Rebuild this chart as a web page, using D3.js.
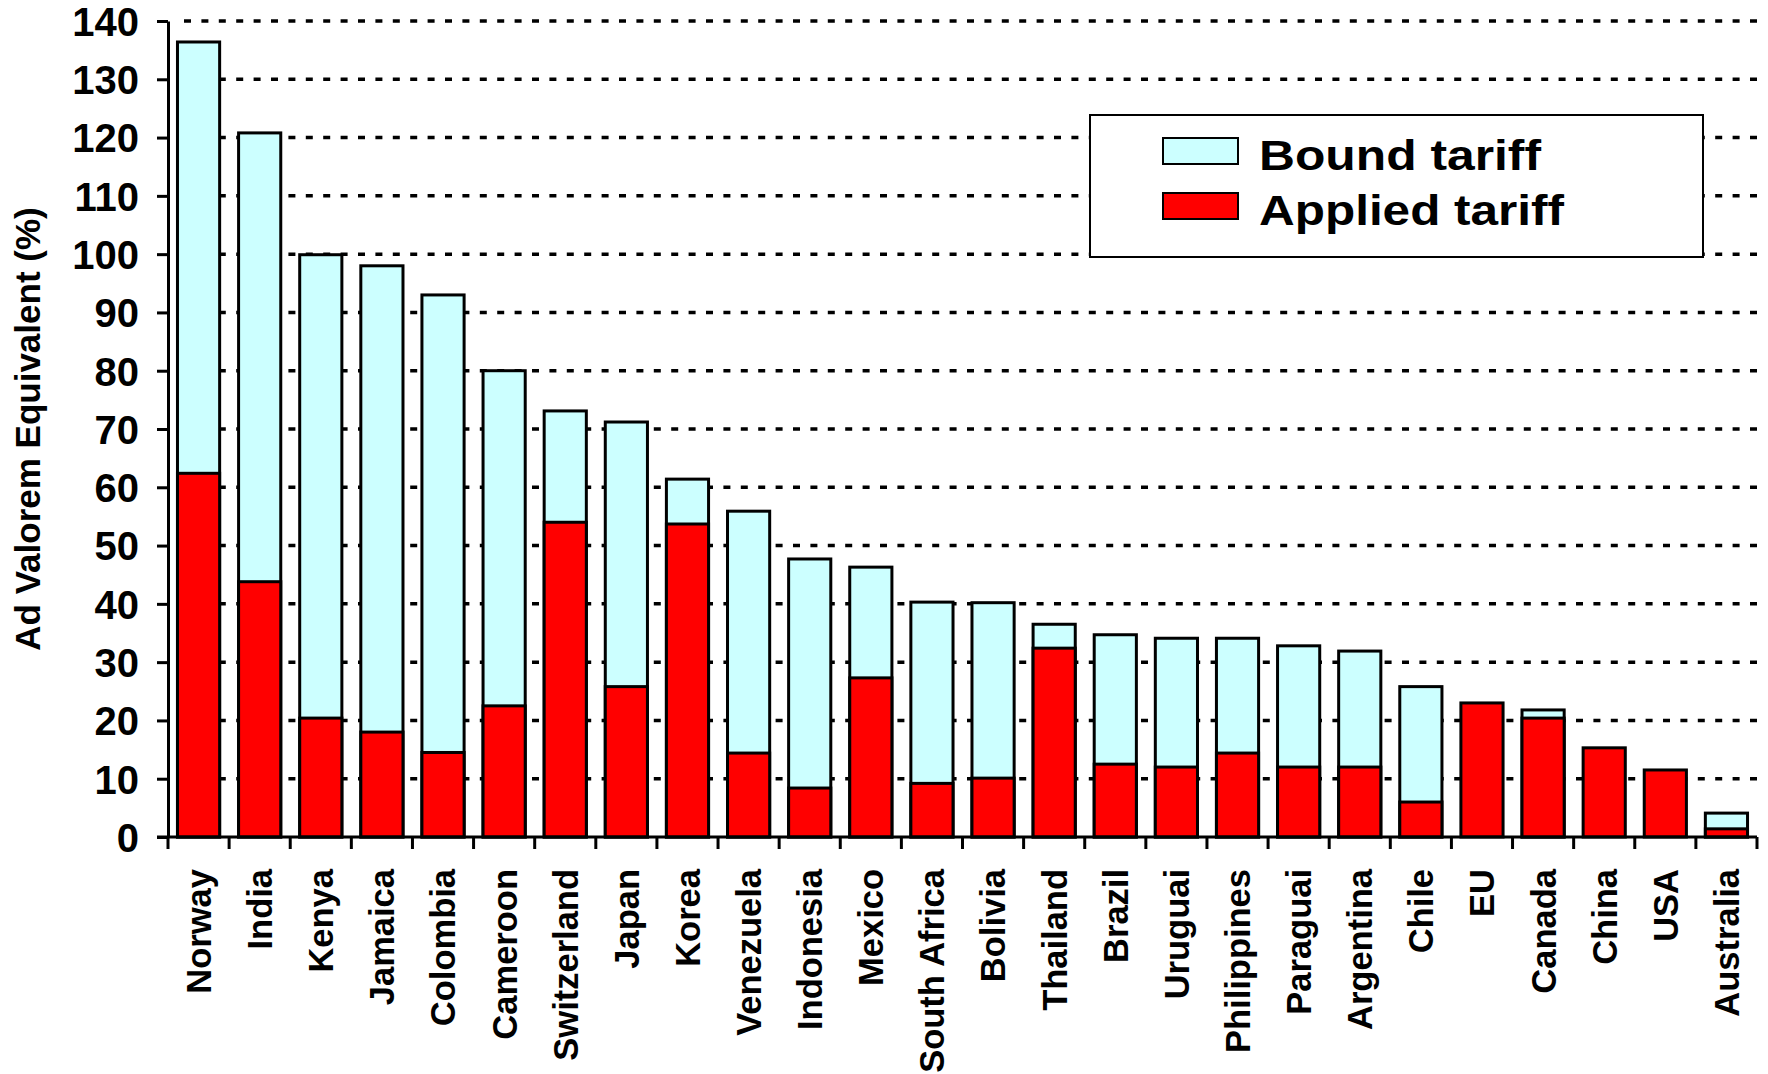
<!DOCTYPE html>
<html>
<head>
<meta charset="utf-8">
<script src="https://cdn.jsdelivr.net/npm/d3@7/dist/d3.min.js"></script>
<style>
  html, body { margin: 0; padding: 0; background: #fff; }
  svg { display: block; }
  text { font-family: "Liberation Sans", Arial, sans-serif; font-weight: bold; fill: #000; }
</style>
</head>
<body>
<script>
const categories = ["Norway","India","Kenya","Jamaica","Colombia","Cameroon","Switzerland","Japan","Korea","Venezuela","Indonesia","Mexico","South Africa","Bolivia","Thailand","Brazil","Uruguai","Philippines","Paraguai","Argentina","Chile","EU","Canada","China","USA","Australia"];
const boundTariff = [136.4,120.8,99.9,98.0,93.0,80.0,73.1,71.2,61.4,55.9,47.7,46.3,40.3,40.2,36.5,34.7,34.1,34.1,32.8,31.9,25.8,null,21.8,null,null,4.1];
const appliedTariff = [62.4,43.8,20.4,18.0,14.5,22.5,54.0,25.8,53.7,14.4,8.4,27.3,9.2,10.1,32.4,12.5,12.0,14.4,12.0,12.0,6.0,23.0,20.4,15.3,11.5,1.4];
const yTicks = [0,10,20,30,40,50,60,70,80,90,100,110,120,130,140];
const seriesNames = ["Bound tariff","Applied tariff"];
const seriesColors = ["#CCFFFF","#FF0000"];
const yTitle = "Ad Valorem Equivalent (%)";

const W = 1768, H = 1074;
const plotLeft = 168, plotRight = 1757, plotTop = 21, plotBottom = 837;

const svg = d3.select("body").append("svg").attr("width", W).attr("height", H);

const x = d3.scaleBand().domain(categories).range([plotLeft, plotRight]).paddingInner(0.31).paddingOuter(0.155);
const y = d3.scaleLinear().domain([0, 140]).range([plotBottom, plotTop]);

// gridlines
svg.append("g").selectAll("line").data(yTicks.filter(d => d > 0)).join("line")
  .attr("x1", plotLeft + 16).attr("x2", plotRight)
  .attr("y1", d => y(d)).attr("y2", d => y(d))
  .attr("stroke", "#000").attr("stroke-width", 3.5)
  .attr("stroke-dasharray", "7,10.4");

// bars: bound behind, applied in front
const data = categories.map((c, i) => ({c, b: boundTariff[i], a: appliedTariff[i]}));
svg.append("g").selectAll("rect").data(data.filter(d => d.b != null)).join("rect")
  .attr("x", d => x(d.c)).attr("width", x.bandwidth())
  .attr("y", d => y(d.b)).attr("height", d => y(0) - y(d.b))
  .attr("fill", seriesColors[0]).attr("stroke", "#000").attr("stroke-width", 3);
svg.append("g").selectAll("rect").data(data).join("rect")
  .attr("x", d => x(d.c)).attr("width", x.bandwidth())
  .attr("y", d => y(d.a)).attr("height", d => y(0) - y(d.a))
  .attr("fill", seriesColors[1]).attr("stroke", "#000").attr("stroke-width", 3);

// y axis
const yAxis = svg.append("g").attr("transform", `translate(${plotLeft},0)`)
  .call(d3.axisLeft(y).tickValues(yTicks).tickSize(11).tickPadding(18).tickSizeOuter(0));
yAxis.select(".domain").attr("stroke", "#000").attr("stroke-width", 3);
yAxis.selectAll(".tick line").attr("stroke", "#000").attr("stroke-width", 3);
yAxis.selectAll("text").style("font-size", "40px").style("font-family", "'Liberation Sans', Arial, sans-serif").style("font-weight", "bold").attr("dy", "0.36em");

// x axis line and boundary ticks
svg.append("line").attr("x1", plotLeft - 11).attr("x2", plotRight).attr("y1", plotBottom).attr("y2", plotBottom)
  .attr("stroke", "#000").attr("stroke-width", 3);
const bounds = d3.range(categories.length + 1).map(i => plotLeft + i * x.step());
svg.append("g").selectAll("line").data(bounds).join("line")
  .attr("x1", d => d).attr("x2", d => d).attr("y1", plotBottom).attr("y2", plotBottom + 12)
  .attr("stroke", "#000").attr("stroke-width", 3);

// x labels
const xAxis = svg.append("g").attr("transform", `translate(0,${plotBottom})`)
  .call(d3.axisBottom(x).tickSize(0).tickPadding(0));
xAxis.select(".domain").remove();
xAxis.selectAll("text")
  .style("font-size", "34.5px").style("font-family", "'Liberation Sans', Arial, sans-serif").style("font-weight", "bold")
  .attr("text-anchor", "end")
  .attr("transform", "translate(0,32) rotate(-90)")
  .attr("x", 0).attr("y", 0).attr("dy", "0.36em");

// y title
svg.append("text").attr("transform", `translate(27,${(plotTop + plotBottom) / 2}) rotate(-90)`)
  .attr("text-anchor", "middle").attr("dy", "0.36em").style("font-size", "35px").text(yTitle);

// legend
const lg = svg.append("g");
lg.append("rect").attr("x", 1090).attr("y", 115).attr("width", 613).attr("height", 142)
  .attr("fill", "#fff").attr("stroke", "#000").attr("stroke-width", 2);
const legendRows = [{n: seriesNames[0], c: seriesColors[0], sy: 138, ty: 170, w: 282},
                    {n: seriesNames[1], c: seriesColors[1], sy: 193, ty: 225, w: 305}];
legendRows.forEach(r => {
  lg.append("rect").attr("x", 1163).attr("y", r.sy).attr("width", 75).attr("height", 26)
    .attr("fill", r.c).attr("stroke", "#000").attr("stroke-width", 2);
  lg.append("text").attr("x", 1259).attr("y", r.ty).style("font-size", "43px")
    .attr("textLength", r.w).attr("lengthAdjust", "spacingAndGlyphs").text(r.n);
});
</script>
</body>
</html>
